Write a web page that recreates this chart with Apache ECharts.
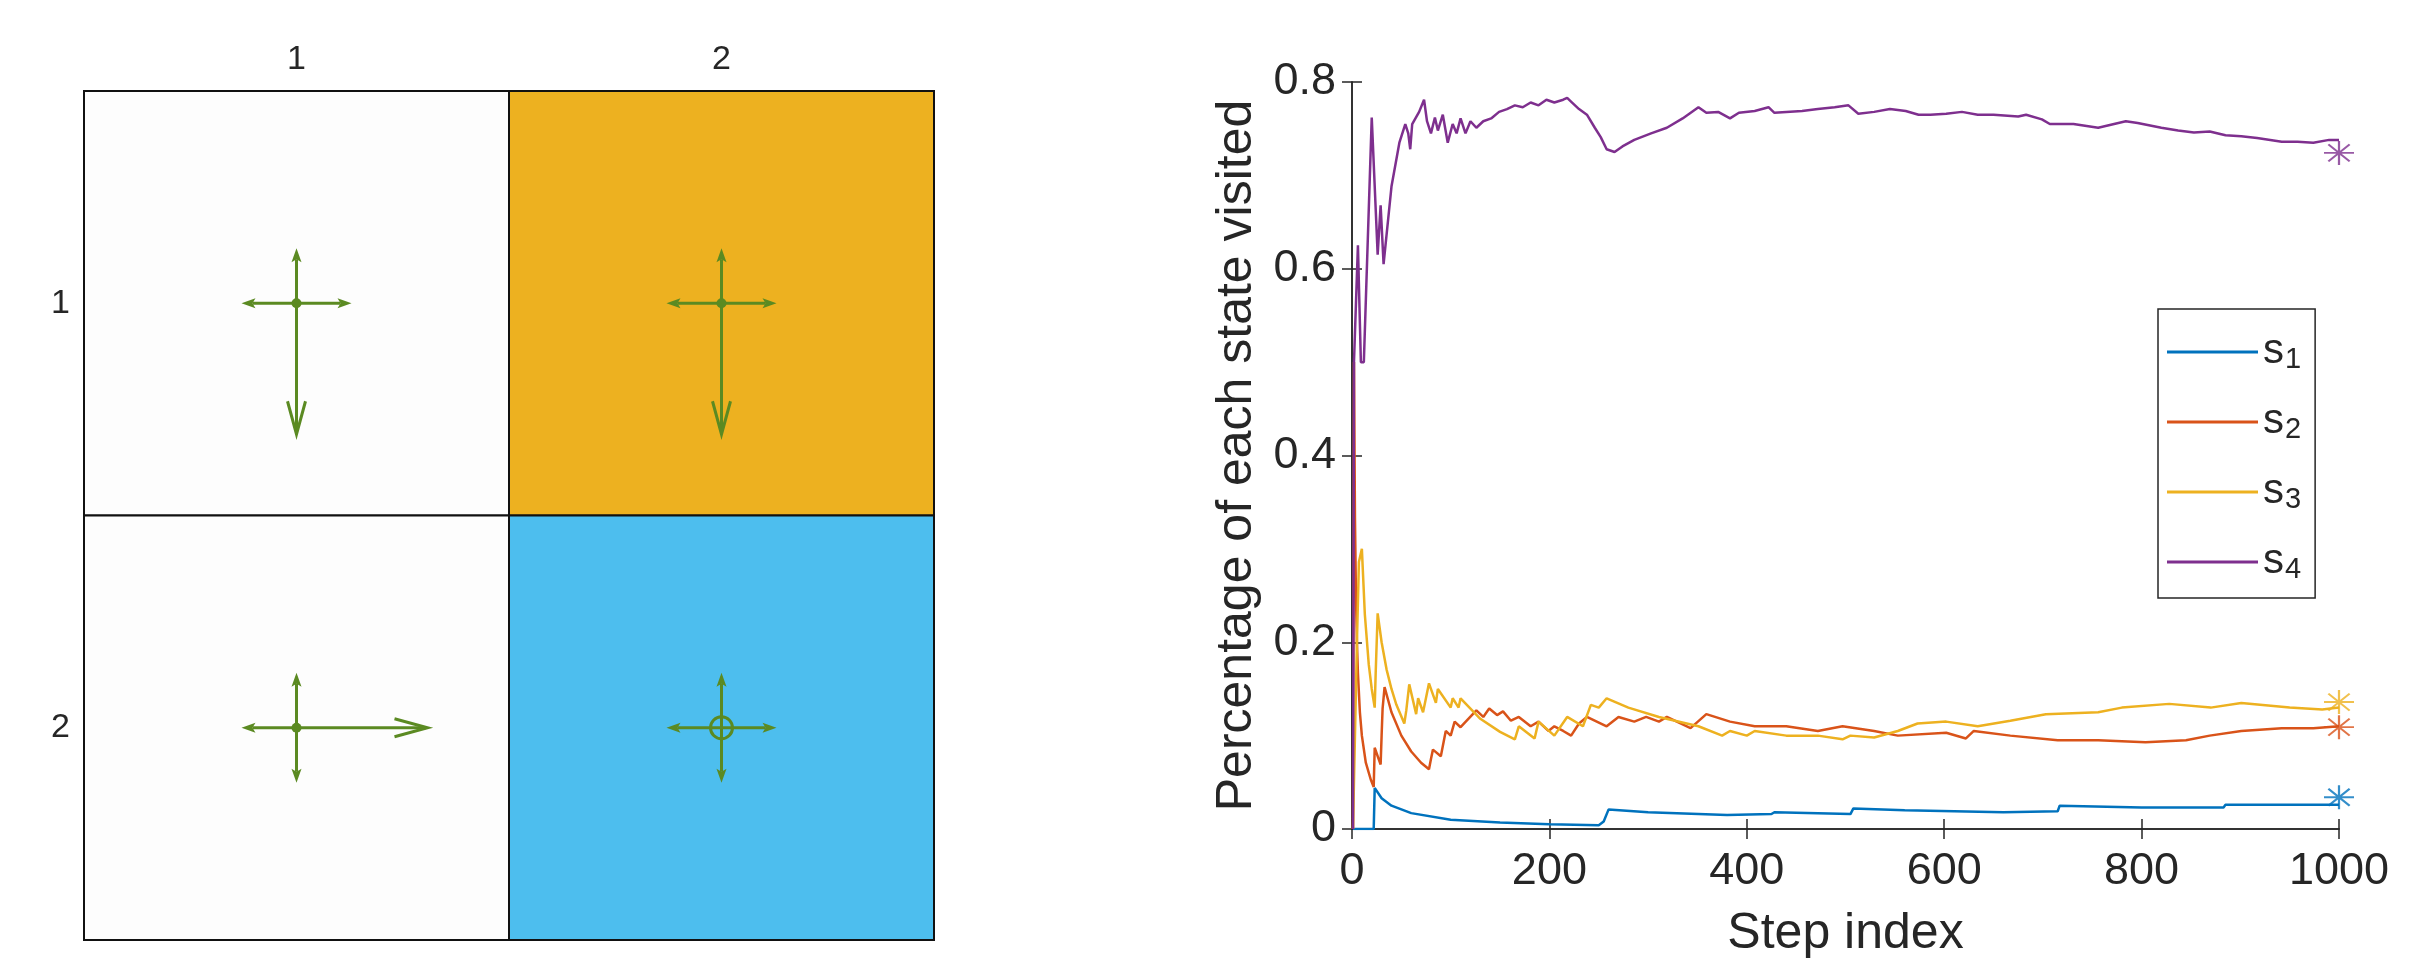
<!DOCTYPE html>
<html><head><meta charset="utf-8">
<script src="https://cdn.jsdelivr.net/npm/echarts@6/dist/echarts.min.js"></script>
<style>html,body{margin:0;padding:0;background:#fff}#c{width:2431px;height:973px}</style>
</head><body><div id="c"></div>
<script>
// ---------------- DATA ----------------
const gridCols = ['1', '2'];
const gridRows = ['1', '2'];
// [colIndex, rowIndex, cellType]
const cellTypes = [[0, 0, 'normal'], [1, 0, 'forbidden'], [0, 1, 'normal'], [1, 1, 'target']];
// [colIndex, rowIndex, pUp, pRight, pDown, pLeft, pStay]
const policy = [
  [0, 0, 0.1, 0.1, 0.6, 0.1, 0.1],
  [1, 0, 0.1, 0.1, 0.6, 0.1, 0.1],
  [0, 1, 0.1, 0.6, 0.1, 0.1, 0.1],
  [1, 1, 0.1, 0.1, 0.1, 0.1, 0.6]
];
const seriesNames = ['s1', 's2', 's3', 's4'];
const xTicks = [0, 200, 400, 600, 800, 1000];
const yTicks = [0, 0.2, 0.4, 0.6, 0.8];
// [step, fraction]
const s1 = [[1,0],[22,0],[23,0.044],[30,0.033],[40,0.025],[60,0.017],[100,0.01],[150,0.007],[200,0.005],[250,0.004],[255,0.008],[260,0.021],[300,0.018],[380,0.015],[382,0.017],[425,0.016],[428,0.018],[505,0.016],[508,0.022],[560,0.02],[660,0.018],[662,0.02],[715,0.019],[717,0.025],[800,0.023],[883,0.023],[885,0.026],[1000,0.026]];
const s2 = [[1,0],[2,0.5],[3,0.333],[4,0.25],[5,0.2],[6,0.167],[8,0.125],[10,0.1],[14,0.071],[19,0.053],[22,0.045],[23,0.087],[29,0.069],[30,0.1],[31,0.129],[33,0.152],[40,0.125],[50,0.1],[60,0.083],[70,0.071],[78,0.064],[80,0.075],[82,0.085],[90,0.078],[95,0.105],[100,0.1],[104,0.115],[110,0.109],[126,0.127],[133,0.12],[139,0.129],[147,0.122],[153,0.126],[161,0.116],[169,0.12],[181,0.11],[189,0.115],[199,0.105],[205,0.11],[214,0.105],[222,0.1],[230,0.113],[238,0.12],[258,0.11],[270,0.12],[286,0.115],[298,0.12],[311,0.115],[319,0.12],[343,0.108],[359,0.123],[383,0.115],[408,0.11],[440,0.11],[472,0.105],[497,0.11],[529,0.105],[553,0.1],[602,0.103],[622,0.097],[630,0.105],[667,0.1],[715,0.095],[756,0.095],[804,0.093],[845,0.095],[869,0.1],[901,0.105],[942,0.108],[974,0.108],[1000,0.11]];
const s3 = [[1,0],[3,0],[5,0.2],[7,0.286],[10,0.3],[13,0.23],[17,0.176],[20,0.15],[23,0.13],[24,0.167],[26,0.231],[30,0.2],[35,0.171],[40,0.15],[45,0.133],[53,0.113],[55,0.127],[58,0.155],[65,0.123],[67,0.14],[72,0.125],[78,0.156],[85,0.135],[87,0.15],[100,0.13],[102,0.14],[108,0.13],[110,0.14],[130,0.118],[150,0.104],[165,0.096],[169,0.11],[185,0.097],[189,0.115],[205,0.1],[218,0.12],[234,0.11],[242,0.133],[250,0.13],[258,0.14],[280,0.13],[311,0.12],[351,0.11],[375,0.1],[383,0.105],[400,0.1],[408,0.105],[440,0.1],[472,0.1],[497,0.096],[505,0.1],[529,0.098],[553,0.105],[573,0.113],[602,0.115],[634,0.11],[667,0.116],[703,0.123],[756,0.125],[780,0.13],[828,0.134],[870,0.13],[901,0.135],[950,0.13],[983,0.128],[1000,0.13]];
const s4 = [[1,0],[2,0.5],[4,0.5],[6,0.625],[9,0.5],[12,0.5],[20,0.762],[26,0.615],[29,0.668],[32,0.605],[40,0.688],[48,0.735],[54,0.755],[57,0.745],[59,0.728],[61,0.755],[68,0.768],[73,0.781],[76,0.758],[80,0.745],[84,0.762],[87,0.748],[92,0.765],[97,0.735],[102,0.755],[106,0.745],[110,0.761],[115,0.745],[120,0.758],[126,0.751],[133,0.758],[141,0.761],[149,0.768],[157,0.771],[165,0.775],[173,0.773],[181,0.778],[189,0.775],[197,0.781],[205,0.778],[214,0.781],[218,0.783],[223,0.778],[230,0.771],[238,0.765],[246,0.751],[252,0.741],[258,0.728],[266,0.725],[274,0.731],[286,0.738],[303,0.745],[319,0.751],[335,0.761],[351,0.773],[359,0.767],[371,0.768],[383,0.761],[392,0.767],[408,0.769],[422,0.773],[428,0.767],[440,0.768],[456,0.769],[472,0.771],[489,0.773],[503,0.775],[513,0.766],[529,0.768],[545,0.771],[561,0.769],[574,0.765],[586,0.765],[602,0.766],[618,0.768],[634,0.765],[650,0.765],[675,0.763],[683,0.765],[699,0.76],[707,0.755],[731,0.755],[756,0.751],[784,0.758],[796,0.756],[820,0.751],[837,0.748],[853,0.746],[869,0.747],[885,0.743],[901,0.742],[917,0.74],[942,0.736],[958,0.736],[974,0.735],[990,0.738],[1000,0.738]];
// stationary values marked with asterisks at the last step
const stationary = [[1000, 0.034], [1000, 0.109], [1000, 0.136], [1000, 0.724]];

// ---------------- STYLE ----------------
const FONT = '"Liberation Sans", Arial, sans-serif';
const TXT = '#262626';
const lineColors = ['#0072BD', '#D95319', '#EDB120', '#7E2F8E'];
const cellColors = { normal: '#fdfdfd', forbidden: '#EDB120', target: '#4DBEEE' };
const ARROW = '#5b8a22';
const ASTERISK = 'path://M0,12L24,12M12,0L12,24M3.5,3.5L20.5,20.5M20.5,3.5L3.5,20.5';

function renderCell(params, api) {
  const c = api.coord([api.value(0), api.value(1)]);
  const s = api.size([1, 1]);
  const type = cellTypes[params.dataIndex][2];
  return {
    type: 'rect',
    shape: { x: c[0] - s[0] / 2, y: c[1] - s[1] / 2, width: s[0], height: s[1] },
    style: { fill: cellColors[type], stroke: '#111', lineWidth: 2 }
  };
}

function renderPolicy(params, api) {
  const c = api.coord([api.value(0), api.value(1)]);
  const cell = api.size([1, 1])[0];
  const dirs = [[0, -1], [1, 0], [0, 1], [-1, 0]];
  const children = [];
  for (let i = 0; i < 4; i++) {
    const p = api.value(2 + i);
    const d = dirs[i];
    const L = (0.0937 + 0.3576 * p) * cell;
    const tip = [c[0] + d[0] * L, c[1] + d[1] * L];
    const big = p >= 0.5;
    const hl = big ? 33 : 14, hw = big ? 9 : 5;
    const base = [tip[0] - d[0] * hl, tip[1] - d[1] * hl];
    const perp = [-d[1], d[0]];
    const p1 = [base[0] + perp[0] * hw, base[1] + perp[1] * hw];
    const p2 = [base[0] - perp[0] * hw, base[1] - perp[1] * hw];
    const shaftEnd = big ? [tip[0] - d[0] * 2, tip[1] - d[1] * 2] : [base[0] + d[0] * 3, base[1] + d[1] * 3];
    children.push({ type: 'line', shape: { x1: c[0], y1: c[1], x2: shaftEnd[0], y2: shaftEnd[1] }, style: { stroke: ARROW, lineWidth: 3 } });
    if (big) {
      children.push({ type: 'polyline', shape: { points: [p1, tip, p2] }, style: { stroke: ARROW, lineWidth: 3, fill: null } });
    } else {
      const notch = [base[0] + d[0] * 3, base[1] + d[1] * 3];
      children.push({ type: 'polygon', shape: { points: [p1, tip, p2, notch] }, style: { fill: ARROW } });
    }
  }
  const stay = api.value(6);
  if (stay >= 0.5) {
    children.push({ type: 'circle', shape: { cx: c[0], cy: c[1], r: 11 }, style: { stroke: ARROW, lineWidth: 3, fill: null } });
  } else {
    children.push({ type: 'circle', shape: { cx: c[0], cy: c[1], r: 5 }, style: { fill: ARROW } });
  }
  return { type: 'group', children };
}

const axisLineStyle = { color: TXT, width: 1.5 };
const chart = echarts.init(document.getElementById('c'));
chart.setOption({
  animation: false,
  backgroundColor: '#ffffff',
  textStyle: { fontFamily: FONT },
  grid: [
    { left: 84, top: 91, width: 850, height: 849 },
    { left: 1352, top: 82, width: 987, height: 747 }
  ],
  xAxis: [
    { gridIndex: 0, type: 'category', data: gridCols, position: 'top',
      axisLine: { show: false }, axisTick: { show: false }, splitLine: { show: false },
      axisLabel: { fontSize: 34, color: TXT, margin: 14, fontFamily: FONT } },
    { gridIndex: 1, type: 'value', min: 0, max: 1000, interval: 200, position: 'bottom',
      axisLine: { lineStyle: axisLineStyle }, axisTick: { inside: true, length: 10, lineStyle: axisLineStyle },
      splitLine: { show: false },
      axisLabel: { fontSize: 45, color: TXT, margin: 20, fontFamily: FONT, formatter: v => String(v) },
      name: 'Step index', nameLocation: 'middle', nameGap: 80,
      nameTextStyle: { fontSize: 50, color: TXT, fontFamily: FONT } },
    { gridIndex: 1, type: 'value', min: 0, max: 1000, interval: 200, position: 'top',
      axisLine: { lineStyle: axisLineStyle }, axisTick: { inside: true, length: 10, lineStyle: axisLineStyle },
      splitLine: { show: false }, axisLabel: { show: false } }
  ],
  yAxis: [
    { gridIndex: 0, type: 'category', data: gridRows, inverse: true,
      axisLine: { show: false }, axisTick: { show: false }, splitLine: { show: false },
      axisLabel: { fontSize: 34, color: TXT, margin: 14, fontFamily: FONT } },
    { gridIndex: 1, type: 'value', min: 0, max: 0.8, interval: 0.2, position: 'left',
      axisLine: { show: true, lineStyle: axisLineStyle }, axisTick: { show: true, inside: true, length: 10, lineStyle: axisLineStyle },
      splitLine: { show: false },
      axisLabel: { fontSize: 45, color: TXT, margin: 16, fontFamily: FONT, formatter: v => String(+v.toFixed(1)) },
      name: 'Percentage of each state visited', nameLocation: 'middle', nameGap: 90,
      nameTextStyle: { fontSize: 50, color: TXT, fontFamily: FONT } },
    { gridIndex: 1, type: 'value', min: 0, max: 0.8, interval: 0.2, position: 'right',
      axisLine: { show: true, lineStyle: axisLineStyle }, axisTick: { show: true, inside: true, length: 10, lineStyle: axisLineStyle },
      splitLine: { show: false }, axisLabel: { show: false } }
  ],
  legend: {
    data: seriesNames,
    orient: 'vertical', left: 2158, top: 309,
    padding: [13, 14, 14, 9],
    itemGap: 18, itemWidth: 91, itemHeight: 3, icon: 'rect',
    backgroundColor: '#ffffff', borderColor: TXT, borderWidth: 1.5, borderRadius: 0,
    formatter: n => '{s|s}{n|' + n.slice(1) + '}',
    textStyle: {
      color: TXT, fontFamily: FONT,
      rich: {
        s: { fontSize: 42, color: TXT, fontFamily: FONT, verticalAlign: 'top', lineHeight: 44 },
        n: { fontSize: 29, color: TXT, fontFamily: FONT, verticalAlign: 'bottom', lineHeight: 30, padding: [23, 0, 0, 1] }
      }
    }
  },
  series: [
    { type: 'custom', xAxisIndex: 0, yAxisIndex: 0, renderItem: renderCell, data: cellTypes.map(d => [d[0], d[1]]), silent: true, z: 1 },
    { type: 'custom', xAxisIndex: 0, yAxisIndex: 0, renderItem: renderPolicy, data: policy, silent: true, z: 2 },
    ...[s1, s2, s3, s4].map((d, i) => ({
      name: seriesNames[i], type: 'line', xAxisIndex: 1, yAxisIndex: 1, data: d,
      showSymbol: false, symbol: 'none', color: lineColors[i],
      lineStyle: { width: 2.5, color: lineColors[i] }, z: 3 + i
    })),
    ...stationary.map((d, i) => ({
      name: 'stationary ' + seriesNames[i], type: 'scatter', xAxisIndex: 1, yAxisIndex: 1, data: [d],
      symbol: ASTERISK, symbolSize: [30, 24], clip: false,
      itemStyle: { color: 'rgba(0,0,0,0)', borderColor: lineColors[i], borderWidth: 2 }, z: 10
    }))
  ]
});
</script>
</body></html>
